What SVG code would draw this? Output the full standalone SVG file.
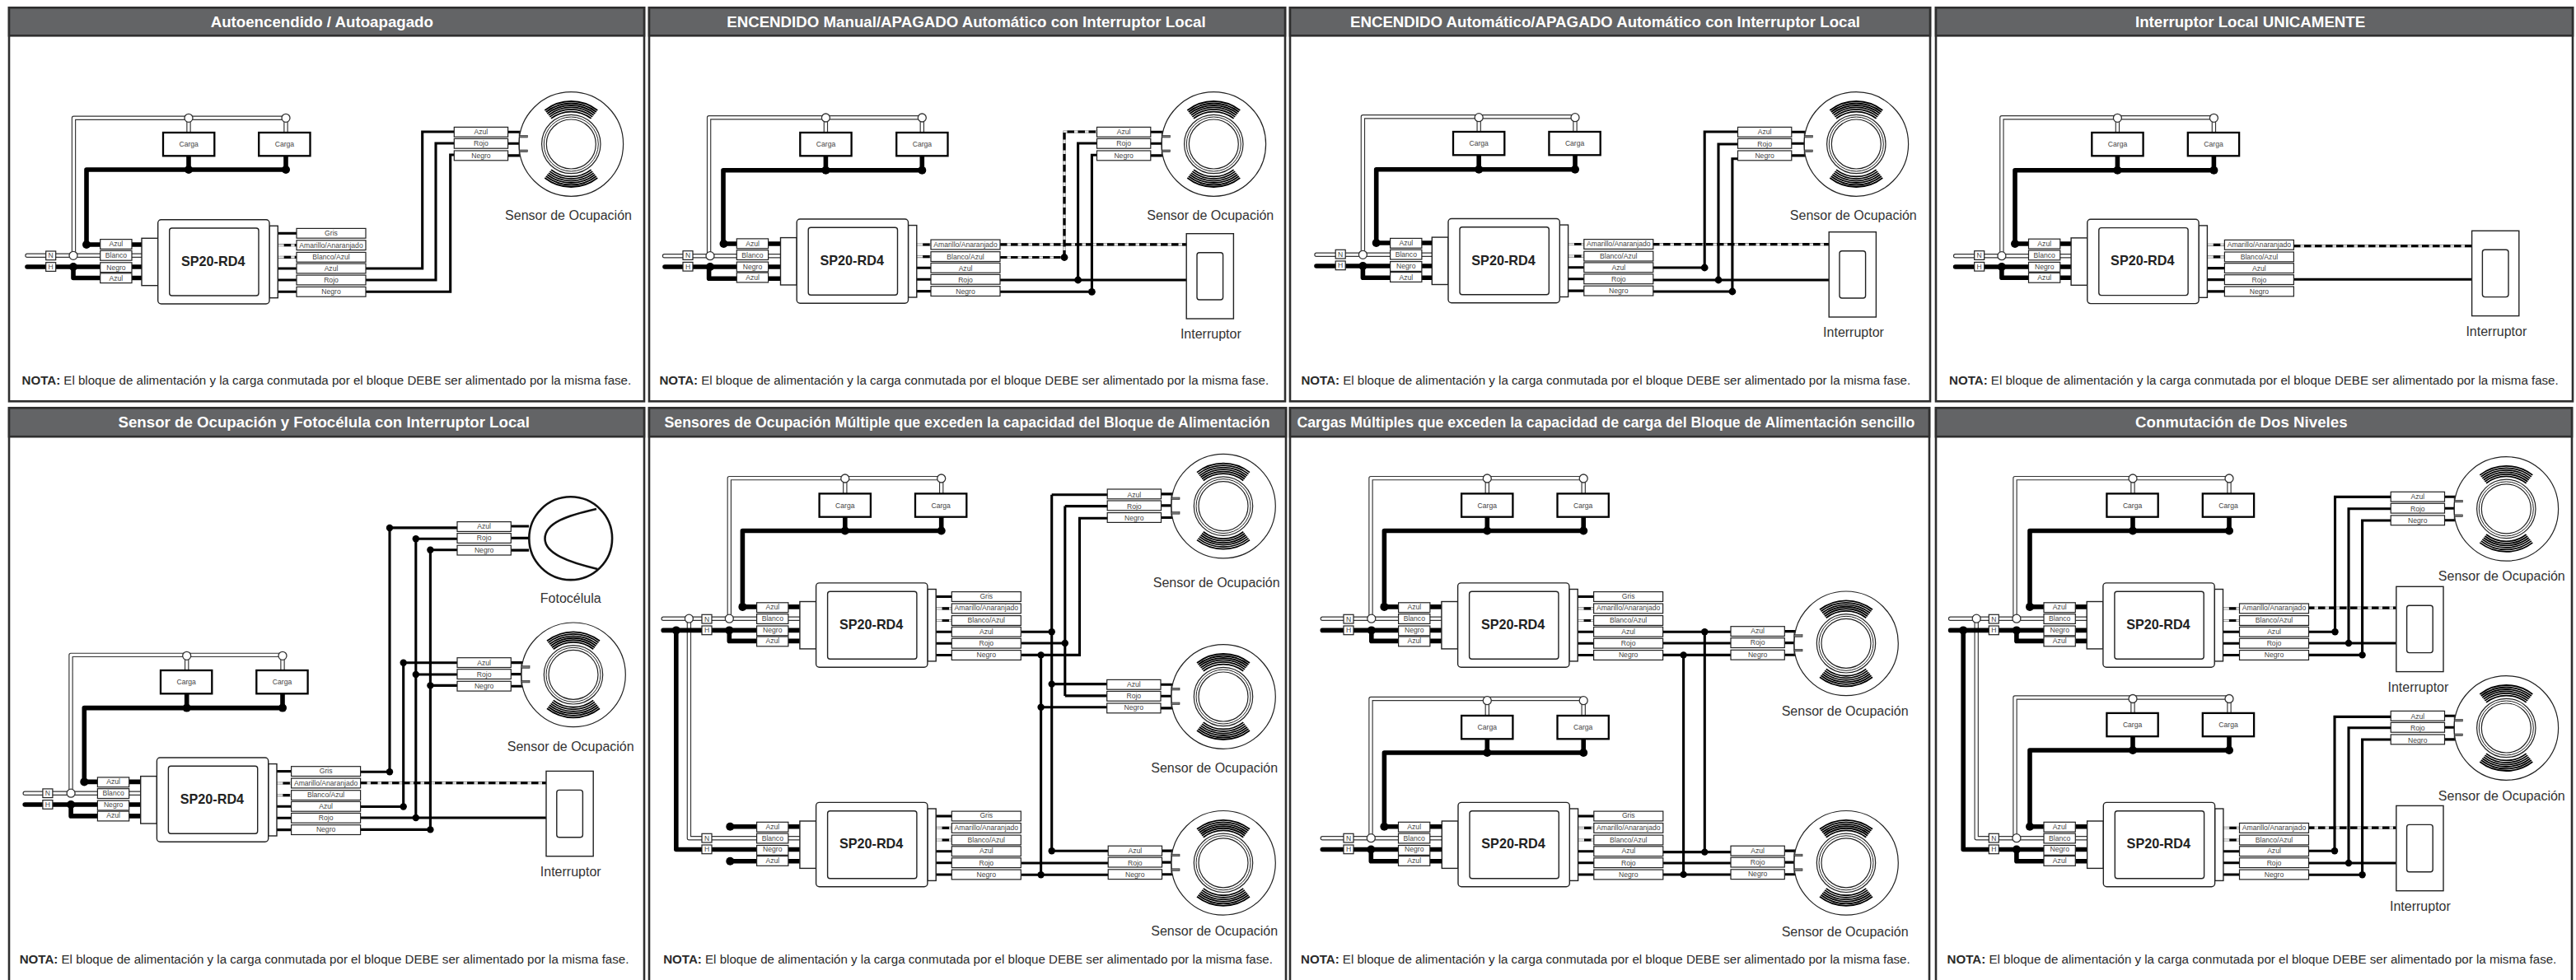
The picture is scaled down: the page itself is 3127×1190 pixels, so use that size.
<svg xmlns="http://www.w3.org/2000/svg" width="3127" height="1190" viewBox="0 0 3127 1190">
<style>
text{font-family:"Liberation Sans",Arial,sans-serif}
.fr{fill:#fff;stroke:#2e2e2e;stroke-width:2.6}
.hd{fill:#636466;stroke:#2e2e2e;stroke-width:2.6}
.h{font-size:18.7px;font-weight:700;fill:#fff;text-anchor:middle}
.nota{font-size:15.1px;fill:#2a2a2a}
.bd{font-weight:700}
.t{font-size:8.6px;fill:#444;text-anchor:middle}
.b{font-size:16.2px;font-weight:700;fill:#222;text-anchor:middle}
.l{font-size:16px;fill:#333;text-anchor:middle}
.ln{fill:#fff;stroke:#222;stroke-width:1.4}
.tg{fill:#fff;stroke:#222;stroke-width:1.2}
.ld{fill:#fff;stroke:#000;stroke-width:2.3}
.nb{fill:none;stroke:#333;stroke-width:5.4;stroke-linecap:round;stroke-linejoin:round}
.nw{fill:none;stroke:#fff;stroke-width:3.1;stroke-linecap:round;stroke-linejoin:round}
.hb{fill:none;stroke:#000;stroke-width:5.6;stroke-linecap:round;stroke-linejoin:round}
.w{fill:none;stroke:#000;stroke-width:3.1}
.db{fill:none;stroke:#888;stroke-width:3.2}
.dw{fill:none;stroke:#fff;stroke-width:1.5}
.dd{fill:none;stroke:#000;stroke-width:3.2;stroke-dasharray:8.5 4.5}
.jw{fill:#fff;stroke:#333;stroke-width:1.3}
.jb{fill:#000}
.arc{fill:none;stroke:#000;stroke-width:1.8}
.rg{fill:none;stroke:#222;stroke-width:1}
</style>
<defs>
<g id="box"><rect class="ln" x="-19.7" y="22.6" width="19.7" height="57.4"/><rect class="ln" x="135.3" y="7.6" width="10.3" height="87.4"/><rect class="ln" width="135.3" height="102.3" rx="4"/><rect class="ln" x="14" y="10.3" width="108.3" height="82" rx="3"/></g>
<g id="tl"><rect class="tg" y="23.9" width="38.3" height="11.8"/><rect class="tg" y="37.7" width="38.3" height="11.8"/><rect class="tg" y="52.1" width="38.3" height="11.8"/><rect class="tg" y="65.1" width="38.3" height="11.8"/></g>
<g id="tr5"><rect class="tg" y="25.1" width="84" height="11.8"/><rect class="tg" y="39.7" width="84" height="11.8"/><rect class="tg" y="53.4" width="84" height="11.8"/><rect class="tg" y="67.4" width="84" height="11.8"/><rect class="tg" y="81.7" width="84" height="11.8"/></g>
<g id="gr"><rect class="tg" y="10.7" width="84" height="11.8"/></g>
<g id="ss"><path class="w" d="M145,59.3H172M145,73.3H172M145,87.6H172"/></g>
<g id="sg"><path class="w" d="M145,16.6H172"/></g>
<g id="sd"><path class="db" d="M145,31H172M145,45.6H172"/><path class="dw" d="M145,31H172M145,45.6H172"/><path class="dd" d="M153,31H172M153,45.6H172"/></g>
<g id="nh"><rect class="tg" width="12" height="10.7"/><rect class="tg" y="13.7" width="12" height="10.7"/></g>
<rect id="load" class="ld" width="62.3" height="28.3"/>
<g id="ts"><rect class="tg" y="-20.6" width="65.3" height="11.8"/><rect class="tg" y="-6.6" width="65.3" height="11.8"/><rect class="tg" y="8" width="65.3" height="11.8"/></g>
<g id="sw"><rect class="ln" width="57.2" height="103.3"/><rect class="ln" x="12.8" y="23" width="31.6" height="57.3" rx="3"/></g>
<g id="sensor">
<path class="w" d="M-80,-14.7H-61M-80,-.7H-61M-80,13.9H-61"/>
<circle class="ln" r="63.3" style="stroke-width:1.2"/>
<path d="M-63,-16V15" stroke="#222" stroke-width="1" fill="none"/>
<rect x="-63" y="-10.6" width="10" height="2.6" fill="#777" stroke="#222" stroke-width=".6"/><rect x="-63" y="7" width="10" height="2.6" fill="#777" stroke="#222" stroke-width=".6"/>
<circle class="rg" r="35.7" style="stroke-width:1.2"/><circle class="rg" r="33"/><circle class="rg" r="30" style="stroke-width:1.2"/>
<path class="arc" d="M-24.3,-31.1A39.5,39.5 0 0 1 24.3,-31.1M-25.9,-33.1A42,42 0 0 1 25.9,-33.1M-27.4,-35.1A44.5,44.5 0 0 1 27.4,-35.1M-29,-37A47,47 0 0 1 29,-37M-30.5,-39A49.5,49.5 0 0 1 30.5,-39M-32,-41A52,52 0 0 1 32,-41"/>
<path class="arc" d="M-24.3,31.1A39.5,39.5 0 0 0 24.3,31.1M-25.9,33.1A42,42 0 0 0 25.9,33.1M-27.4,35.1A44.5,44.5 0 0 0 27.4,35.1M-29,37A47,47 0 0 0 29,37M-30.5,39A49.5,49.5 0 0 0 30.5,39M-32,41A52,52 0 0 0 32,41"/>
</g>
</defs>
<rect width="3127" height="1190" fill="#fff"/>

<g id="p1">
<g id="p1-frame"><rect class="fr" x="11" y="9.3" width="771" height="478"/><rect class="hd" x="11" y="9.3" width="771" height="34"/><text class="h" x="390.8" y="33">Autoencendido / Autoapagado</text></g>
<g id="p1-wires">
<path class="nb" d="M33,310.3H172M89.5,310V143.3H347M229,143V161M347,143V161"/><path class="nw" d="M33,310.3H172M89.5,310V143.3H347M229,143V161M347,143V161"/>
<path class="hb" d="M33,324H172M89,324V337.5H172M229,189V206M347,189V206H105V297H172"/>
<use href="#ss" x="191.7" y="266.7"/><use href="#sg" x="191.7" y="266.7"/><use href="#sd" x="191.7" y="266.7"/>
<path class="w" d="M444,326H512.7V160H552M444,340H529V174H552M444,354.3H546.7V188H552"/>
<g class="jb"><circle cx="89" cy="324" r="5"/><circle cx="229" cy="206" r="5"/><circle cx="347" cy="206" r="5"/><circle cx="105" cy="297" r="5"/></g>
<g class="jw"><circle cx="89" cy="310.3" r="5"/><circle cx="229" cy="143.3" r="5"/><circle cx="347" cy="143.3" r="5"/></g>
</g>
<g id="p1-feed" transform="translate(55.7,305)"><use href="#nh"/><text class="t" x="6" y="8.4">N</text><text class="t" x="6" y="22">H</text></g>
<g id="p1-load1" transform="translate(198,161)"><use href="#load"/><text class="t" x="31.2" y="17.2">Carga</text></g>
<g id="p1-load2" transform="translate(314.2,161)"><use href="#load"/><text class="t" x="31.2" y="17.2">Carga</text></g>
<g id="p1-block" transform="translate(191.7,266.7)"><use href="#box"/><use href="#tl" x="-70"/><use href="#tr5" x="168.3"/><use href="#gr" x="168.3"/><text class="b" x="67" y="56">SP20-RD4</text>
<text class="t" x="-50.8" y="32.8">Azul</text><text class="t" x="-50.8" y="46.6">Blanco</text><text class="t" x="-50.8" y="61">Negro</text><text class="t" x="-50.8" y="74">Azul</text>
<text class="t" x="210.3" y="19.6">Gris</text><text class="t" x="210.3" y="34">Amarillo/Anaranjado</text><text class="t" x="210.3" y="48.6">Blanco/Azul</text><text class="t" x="210.3" y="62.3">Azul</text><text class="t" x="210.3" y="76.3">Rojo</text><text class="t" x="210.3" y="90.6">Negro</text></g>
<g id="p1-sensor" transform="translate(693.3,175)"><use href="#sensor"/><use href="#ts" x="-142"/><text class="t" x="-109.4" y="-12">Azul</text><text class="t" x="-109.4" y="2">Rojo</text><text class="t" x="-109.4" y="16.5">Negro</text><text class="l" x="-3.3" y="92.2">Sensor de Ocupación</text></g>
<text class="nota" x="26.5" y="467"><tspan class="bd">NOTA:</tspan> El bloque de alimentación y la carga conmutada por el bloque DEBE ser alimentado por la misma fase.</text>
</g>

<g id="p2">
<g id="p2-frame"><rect class="fr" x="788" y="9.3" width="772" height="478"/><rect class="hd" x="788" y="9.3" width="772" height="34"/><text class="h" x="1172.9" y="33">ENCENDIDO Manual/APAGADO Automático con Interruptor Local</text></g>
<g id="p2-wires">
<path class="nb" d="M806.5,310.7H947M860.6,310V142.7H1119.3M1002.4,143V161M1119.3,143V161"/><path class="nw" d="M806.5,310.7H947M860.6,310V142.7H1119.3M1002.4,143V161M1119.3,143V161"/>
<path class="hb" d="M807,324H947M860.6,324V338.3H947M1002.4,189V206.7M1119.3,189V206.7H878V296H947"/>
<use href="#ss" x="967.2" y="266"/><use href="#sd" x="967.2" y="266"/>
<path class="db" d="M1214,296.8H1440M1214,312.5H1292V160H1332"/><path class="dw" d="M1214,296.8H1440M1214,312.5H1292V160H1332"/><path class="dd" d="M1214,296.8H1440M1214,312.5H1292V160H1332"/>
<path class="w" d="M1214,340H1440M1308.6,340V174H1332M1214,354.3H1325.4V188.3H1332"/>
<g class="jb"><circle cx="862" cy="324" r="5"/><circle cx="1002.4" cy="206.7" r="5"/><circle cx="1119.3" cy="206.7" r="5"/><circle cx="878.5" cy="296" r="5"/><circle cx="1292" cy="312.5" r="4.4"/><circle cx="1308.6" cy="340" r="4.4"/><circle cx="1325.4" cy="354.3" r="4.4"/></g>
<g class="jw"><circle cx="862" cy="310.7" r="5"/><circle cx="1002.4" cy="143" r="5"/><circle cx="1119.3" cy="143" r="5"/></g>
</g>
<g id="p2-feed" transform="translate(829,304.7)"><use href="#nh"/><text class="t" x="6" y="8.4">N</text><text class="t" x="6" y="22">H</text></g>
<g id="p2-load1" transform="translate(971.3,161)"><use href="#load"/><text class="t" x="31.2" y="17.2">Carga</text></g>
<g id="p2-load2" transform="translate(1088.2,161)"><use href="#load"/><text class="t" x="31.2" y="17.2">Carga</text></g>
<g id="p2-block" transform="translate(967.2,266)"><use href="#box"/><use href="#tl" x="-72.9"/><use href="#tr5" x="162.8"/><text class="b" x="67" y="56">SP20-RD4</text>
<text class="t" x="-53.7" y="33">Azul</text><text class="t" x="-53.7" y="47">Blanco</text><text class="t" x="-53.7" y="61.4">Negro</text><text class="t" x="-53.7" y="74.3">Azul</text>
<text class="t" x="204.8" y="34">Amarillo/Anaranjado</text><text class="t" x="204.8" y="49">Blanco/Azul</text><text class="t" x="204.8" y="63">Azul</text><text class="t" x="204.8" y="77">Rojo</text><text class="t" x="204.8" y="91.3">Negro</text></g>
<g id="p2-sensor" transform="translate(1473.3,175)"><use href="#sensor"/><use href="#ts" x="-141.8"/><text class="t" x="-109.2" y="-12">Azul</text><text class="t" x="-109.2" y="2">Rojo</text><text class="t" x="-109.2" y="16.5">Negro</text><text class="l" x="-4" y="92.2">Sensor de Ocupación</text></g>
<g id="p2-switch" transform="translate(1440.2,283.7)"><use href="#sw"/><text class="l" x="29.6" y="127.8">Interruptor</text></g>
<text class="nota" x="800.4" y="467"><tspan class="bd">NOTA:</tspan> El bloque de alimentación y la carga conmutada por el bloque DEBE ser alimentado por la misma fase.</text>
</g>

<g id="p3">
<g id="p3-frame"><rect class="fr" x="1566" y="9.3" width="777" height="478"/><rect class="hd" x="1566" y="9.3" width="777" height="34"/><text class="h" x="1948.5" y="33">ENCENDIDO Automático/APAGADO Automático con Interruptor Local</text></g>
<g id="p3-wires">
<path class="nb" d="M1598,309.3H1738M1654.4,309V141.7H1912M1795.2,142V160M1912,142V160"/><path class="nw" d="M1598,309.3H1738M1654.4,309V141.7H1912M1795.2,142V160M1912,142V160"/>
<path class="hb" d="M1598,323H1738M1654.4,323V337.3H1738M1795.2,188V205.7M1912,188V205.7H1670.7V295H1738"/>
<use href="#ss" x="1758" y="265.5"/><use href="#sd" x="1758" y="265.5"/>
<path class="db" d="M2006,296.7H2220"/><path class="dw" d="M2006,296.7H2220"/><path class="dd" d="M2006,296.7H2220"/>
<path class="w" d="M2006,325H2069.2V160H2110M2006,340H2220M2086,340V175H2110M2006,354H2102.9V192.7H2110"/>
<g class="jb"><circle cx="1654.4" cy="323" r="5"/><circle cx="1795.2" cy="205.7" r="5"/><circle cx="1912" cy="205.7" r="5"/><circle cx="1670.7" cy="295" r="5"/><circle cx="2069.2" cy="325" r="4.4"/><circle cx="2086" cy="340" r="4.4"/><circle cx="2102.9" cy="354" r="4.4"/></g>
<g class="jw"><circle cx="1654.4" cy="309.3" r="5"/><circle cx="1795.2" cy="142.7" r="5"/><circle cx="1912" cy="142.7" r="5"/></g>
</g>
<g id="p3-feed" transform="translate(1621.2,303.3)"><use href="#nh"/><text class="t" x="6" y="8.4">N</text><text class="t" x="6" y="22">H</text></g>
<g id="p3-load1" transform="translate(1764,160)"><use href="#load"/><text class="t" x="31.2" y="17.2">Carga</text></g>
<g id="p3-load2" transform="translate(1880.4,160)"><use href="#load"/><text class="t" x="31.2" y="17.2">Carga</text></g>
<g id="p3-block" transform="translate(1758,265.5)"><use href="#box"/><use href="#tl" x="-70.4"/><use href="#tr5" x="164.8"/><text class="b" x="67" y="56">SP20-RD4</text>
<text class="t" x="-51.2" y="32.5">Azul</text><text class="t" x="-51.2" y="46.8">Blanco</text><text class="t" x="-51.2" y="60.8">Negro</text><text class="t" x="-51.2" y="74.2">Azul</text>
<text class="t" x="206.8" y="33.5">Amarillo/Anaranjado</text><text class="t" x="206.8" y="48.5">Blanco/Azul</text><text class="t" x="206.8" y="62.5">Azul</text><text class="t" x="206.8" y="76.5">Rojo</text><text class="t" x="206.8" y="90.8">Negro</text></g>
<g id="p3-sensor" transform="translate(2253.3,175)"><use href="#sensor"/><use href="#ts" x="-143.8"/><text class="t" x="-111.2" y="-12">Azul</text><text class="t" x="-111.2" y="3">Rojo</text><text class="t" x="-111.2" y="17.3">Negro</text><text class="l" x="-3.5" y="92.2">Sensor de Ocupación</text></g>
<g id="p3-switch" transform="translate(2220.2,281.7)"><use href="#sw"/><text class="l" x="29.8" y="127.5">Interruptor</text></g>
<text class="nota" x="1579.4" y="467"><tspan class="bd">NOTA:</tspan> El bloque de alimentación y la carga conmutada por el bloque DEBE ser alimentado por la misma fase.</text>
</g>

<g id="p4">
<g id="p4-frame"><rect class="fr" x="2350" y="9.3" width="773" height="478"/><rect class="hd" x="2350" y="9.3" width="773" height="34"/><text class="h" x="2731.6" y="33">Interruptor Local UNICAMENTE</text></g>
<g id="p4-wires">
<path class="nb" d="M2373.6,310.7H2514M2429.9,310V142.7H2687.4M2570.4,143V161M2687.4,143V161"/><path class="nw" d="M2373.6,310.7H2514M2429.9,310V142.7H2687.4M2570.4,143V161M2687.4,143V161"/>
<path class="hb" d="M2373.6,324H2514M2429.9,324V337.3H2514M2570.4,189V206.7M2687.4,189V206.7H2446V296H2514"/>
<use href="#ss" x="2533.8" y="266.3"/><use href="#sd" x="2533.8" y="266.3"/>
<path class="db" d="M2784,298.7H3000.6"/><path class="dw" d="M2784,298.7H3000.6"/><path class="dd" d="M2784,298.7H3000.6"/>
<path class="w" d="M2784,339.3H3000.6"/>
<g class="jb"><circle cx="2429.9" cy="324" r="5"/><circle cx="2570.4" cy="206.7" r="5"/><circle cx="2687.4" cy="206.7" r="5"/><circle cx="2446" cy="296" r="5"/></g>
<g class="jw"><circle cx="2429.9" cy="310.7" r="5"/><circle cx="2570.4" cy="143.3" r="5"/><circle cx="2687.4" cy="143.3" r="5"/></g>
</g>
<g id="p4-feed" transform="translate(2396.7,304.7)"><use href="#nh"/><text class="t" x="6" y="8.4">N</text><text class="t" x="6" y="22">H</text></g>
<g id="p4-load1" transform="translate(2539.3,161)"><use href="#load"/><text class="t" x="31.2" y="17.2">Carga</text></g>
<g id="p4-load2" transform="translate(2655.8,161)"><use href="#load"/><text class="t" x="31.2" y="17.2">Carga</text></g>
<g id="p4-block" transform="translate(2533.8,266.3)"><use href="#box"/><use href="#tl" x="-71.3"/><use href="#tr5" x="166.6"/><text class="b" x="67" y="56">SP20-RD4</text>
<text class="t" x="-52.1" y="32.8">Azul</text><text class="t" x="-52.1" y="46.6">Blanco</text><text class="t" x="-52.1" y="61">Negro</text><text class="t" x="-52.1" y="74">Azul</text>
<text class="t" x="208.6" y="34">Amarillo/Anaranjado</text><text class="t" x="208.6" y="48.6">Blanco/Azul</text><text class="t" x="208.6" y="62.3">Azul</text><text class="t" x="208.6" y="76.3">Rojo</text><text class="t" x="208.6" y="90.6">Negro</text></g>
<g id="p4-switch" transform="translate(3000.6,280.3)"><use href="#sw"/><text class="l" x="29.7" y="127.8">Interruptor</text></g>
<text class="nota" x="2366" y="467"><tspan class="bd">NOTA:</tspan> El bloque de alimentación y la carga conmutada por el bloque DEBE ser alimentado por la misma fase.</text>
</g>

<g id="p5">
<g id="p5-frame"><rect class="fr" x="11" y="495.4" width="771" height="705"/><rect class="hd" x="11" y="495.4" width="771" height="34.8"/><text class="h" x="393.2" y="518.8">Sensor de Ocupación y Fotocélula con Interruptor Local</text></g>
<g id="p5-wires">
<path class="nb" d="M30.2,963.2H170M86,963V795.4H343M226.7,796V814M343,796V814"/><path class="nw" d="M30.2,963.2H170M86,963V795.4H343M226.7,796V814M343,796V814"/>
<path class="hb" d="M30.2,977H170M86.1,977V990.9H170M226.7,842V859.6M343,842V859.6H102.3V949.4H170"/>
<use href="#ss" x="190.4" y="920"/><use href="#sg" x="190.4" y="920"/><use href="#sd" x="190.4" y="920"/>
<path class="db" d="M437,950.7H663"/><path class="dw" d="M437,950.7H663"/><path class="dd" d="M437,950.7H663"/>
<path class="w" d="M437,937.3H473V640.9H556M437,979.5H489.7V804.7H556M437,993H663M504.8,993V654.3H556M504.8,819H556M437,1007.4H522.4V667.7H556M522.4,832.4H556M620,639H642M620,653.4H642M620,668.1H642"/>
<g class="jb"><circle cx="86.1" cy="977" r="5"/><circle cx="226.7" cy="859.6" r="5"/><circle cx="343" cy="859.6" r="5"/><circle cx="102.3" cy="949.4" r="5"/><circle cx="473" cy="937.3" r="4.2"/><circle cx="473" cy="641" r="4.2"/><circle cx="489.7" cy="979.5" r="4.2"/><circle cx="489.7" cy="804.7" r="4.2"/><circle cx="504.8" cy="993" r="4.2"/><circle cx="504.8" cy="654.3" r="4.2"/><circle cx="504.8" cy="819" r="4.2"/><circle cx="522.4" cy="1007.4" r="4.2"/><circle cx="522.4" cy="667.7" r="4.2"/><circle cx="522.4" cy="832.4" r="4.2"/></g>
<g class="jw"><circle cx="86.1" cy="963.2" r="5"/><circle cx="226.7" cy="796.3" r="5"/><circle cx="343" cy="796.3" r="5"/></g>
</g>
<g id="p5-feed" transform="translate(51.9,957.9)"><use href="#nh"/><text class="t" x="6" y="8.4">N</text><text class="t" x="6" y="22">H</text></g>
<g id="p5-load1" transform="translate(195,814)"><use href="#load"/><text class="t" x="31.2" y="17.2">Carga</text></g>
<g id="p5-load2" transform="translate(311.3,814)"><use href="#load"/><text class="t" x="31.2" y="17.2">Carga</text></g>
<g id="p5-block" transform="translate(190.4,920)"><use href="#box"/><use href="#tl" x="-72"/><use href="#tr5" x="163.2"/><use href="#gr" x="163.2"/><text class="b" x="67" y="56">SP20-RD4</text>
<text class="t" x="-52.8" y="32">Azul</text><text class="t" x="-52.8" y="45.8">Blanco</text><text class="t" x="-52.8" y="60">Negro</text><text class="t" x="-52.8" y="73.4">Azul</text>
<text class="t" x="205.2" y="19.4">Gris</text><text class="t" x="205.2" y="33.7">Amarillo/Anaranjado</text><text class="t" x="205.2" y="48">Blanco/Azul</text><text class="t" x="205.2" y="62.3">Azul</text><text class="t" x="205.2" y="76">Rojo</text><text class="t" x="205.2" y="90.4">Negro</text></g>
<g id="p5-photocell" transform="translate(692.7,653.7)"><circle r="50.4" fill="#fff" stroke="#111" stroke-width="2.6"/><path d="M31.3,-35.7C-3,-28 -31.4,-19 -31.2,.6C-31,18.3 -3,29 32.7,37.2" fill="none" stroke="#111" stroke-width="2.6"/><use href="#ts" x="-137.7" transform="translate(0,.5)"/><text class="t" x="-105.1" y="-11.7">Azul</text><text class="t" x="-105.1" y="2.7">Rojo</text><text class="t" x="-105.1" y="17.4">Negro</text><text class="l" x="0" y="78.4">Fotocélula</text></g>
<g id="p5-sensor" transform="translate(696,819.3)"><use href="#sensor"/><use href="#ts" x="-141"/><text class="t" x="-108.4" y="-11.6">Azul</text><text class="t" x="-108.4" y="2.7">Rojo</text><text class="t" x="-108.4" y="17">Negro</text><text class="l" x="-3.3" y="92.7">Sensor de Ocupación</text></g>
<g id="p5-switch" transform="translate(663,936.4)"><use href="#sw"/><text class="l" x="29.7" y="127.4">Interruptor</text></g>
<text class="nota" x="23.7" y="1170"><tspan class="bd">NOTA:</tspan> El bloque de alimentación y la carga conmutada por el bloque DEBE ser alimentado por la misma fase.</text>
</g>

<g id="p6">
<g id="p6-frame"><rect class="fr" x="788" y="495.4" width="773" height="705"/><rect class="hd" x="788" y="495.4" width="773" height="34.8"/><text class="h" x="1174" y="518.8" textLength="735" lengthAdjust="spacingAndGlyphs">Sensores de Ocupación Múltiple que exceden la capacidad del Bloque de Alimentación</text></g>
<g id="p6-wires">
<path class="nb" d="M805.2,751.2H971M885.3,751V580.6H1142.7M1025.8,581V599.4M1142.7,581V599.4M836.4,751V1017.7H971"/><path class="nw" d="M805.2,751.2H971M885.3,751V580.6H1142.7M1025.8,581V599.4M1142.7,581V599.4M836.4,751V1017.7H971"/>
<path class="hb" d="M805.2,765.4H971M885.3,765.4V778.4H971M820.8,765.4V1031.5H971M1025.8,627V644.5M1142.7,627V644.5H901.4V736.9H971M886.3,1003.8H971M886.3,1045.8H971"/>
<use href="#ss" x="990.6" y="707.9"/><use href="#sg" x="990.6" y="707.9"/><use href="#sd" x="990.6" y="707.9"/>
<use href="#ss" x="990.6" y="974.4"/><use href="#sg" x="990.6" y="974.4"/><use href="#sd" x="990.6" y="974.4"/>
<path class="w" d="M1240,767.2H1276.7M1276.7,600.7V1033.3M1276.7,600.7H1345M1276.7,830.6H1345M1276.7,1033.3H1345M1240,781H1292.8M1292.8,614.6V844.9M1292.8,614.6H1345M1292.8,844.9H1345M1240,795.4H1310.5V629.3H1345M1263.6,795.4V1062.3M1263.6,858.8H1345M1240,1048H1345M1240,1062.3H1345"/>
<g class="jb"><circle cx="820.8" cy="765.4" r="5"/><circle cx="885.3" cy="765.4" r="5"/><circle cx="1025.8" cy="644.5" r="5"/><circle cx="1142.7" cy="644.5" r="5"/><circle cx="901.4" cy="736.9" r="5"/><circle cx="886.3" cy="1003.8" r="5"/><circle cx="886.3" cy="1045.8" r="5"/><circle cx="1276.7" cy="767.2" r="4.2"/><circle cx="1276.7" cy="830.6" r="4.2"/><circle cx="1276.7" cy="1033.3" r="4.2"/><circle cx="1292.8" cy="781" r="4.2"/><circle cx="1263.6" cy="795.4" r="4.2"/><circle cx="1263.6" cy="858.8" r="4.2"/><circle cx="1263.6" cy="1062.3" r="4.2"/></g>
<g class="jw"><circle cx="836.4" cy="751.2" r="5"/><circle cx="885.3" cy="751.2" r="5"/><circle cx="1025.8" cy="581" r="5"/><circle cx="1142.7" cy="581" r="5"/></g>
</g>
<g id="p6-feed1" transform="translate(852,746.3)"><use href="#nh"/><text class="t" x="6" y="8.4">N</text><text class="t" x="6" y="22">H</text></g>
<g id="p6-feed2" transform="translate(852,1012.3)"><use href="#nh"/><text class="t" x="6" y="8.4">N</text><text class="t" x="6" y="22">H</text></g>
<g id="p6-load1" transform="translate(994.6,599.4)"><use href="#load"/><text class="t" x="31.2" y="17.2">Carga</text></g>
<g id="p6-load2" transform="translate(1111,599.4)"><use href="#load"/><text class="t" x="31.2" y="17.2">Carga</text></g>
<g id="p6-block1" transform="translate(990.6,707.9)"><use href="#box"/><use href="#tl" x="-72"/><use href="#tr5" x="164.7"/><use href="#gr" x="164.7"/><text class="b" x="67" y="56">SP20-RD4</text>
<text class="t" x="-52.8" y="32">Azul</text><text class="t" x="-52.8" y="46.3">Blanco</text><text class="t" x="-52.8" y="60.5">Negro</text><text class="t" x="-52.8" y="73.5">Azul</text>
<text class="t" x="206.7" y="19">Gris</text><text class="t" x="206.7" y="33.3">Amarillo/Anaranjado</text><text class="t" x="206.7" y="48">Blanco/Azul</text><text class="t" x="206.7" y="62.3">Azul</text><text class="t" x="206.7" y="76">Rojo</text><text class="t" x="206.7" y="90.5">Negro</text></g>
<g id="p6-block2" transform="translate(990.6,974.4)"><use href="#box"/><use href="#tl" x="-72"/><use href="#tr5" x="164.7"/><use href="#gr" x="164.7"/><text class="b" x="67" y="56">SP20-RD4</text>
<text class="t" x="-52.8" y="32.4">Azul</text><text class="t" x="-52.8" y="46.3">Blanco</text><text class="t" x="-52.8" y="59.6">Negro</text><text class="t" x="-52.8" y="73.5">Azul</text>
<text class="t" x="206.7" y="19">Gris</text><text class="t" x="206.7" y="33.3">Amarillo/Anaranjado</text><text class="t" x="206.7" y="48.5">Blanco/Azul</text><text class="t" x="206.7" y="61.9">Azul</text><text class="t" x="206.7" y="76.6">Rojo</text><text class="t" x="206.7" y="90.9">Negro</text></g>
<g id="p6-sensor1" transform="translate(1485,614.6)"><use href="#sensor"/><use href="#ts" x="-140.8"/><text class="t" x="-108.2" y="-10.9">Azul</text><text class="t" x="-108.2" y="3.4">Rojo</text><text class="t" x="-108.2" y="17.7">Negro</text><text class="l" x="-8.3" y="98.3">Sensor de Ocupación</text></g>
<g id="p6-sensor2" transform="translate(1485,846)"><use href="#sensor"/><use href="#ts" x="-141.3"/><text class="t" x="-108.7" y="-12">Azul</text><text class="t" x="-108.7" y="2.4">Rojo</text><text class="t" x="-108.7" y="16.2">Negro</text><text class="l" x="-10.8" y="91.9">Sensor de Ocupación</text></g>
<g id="p6-sensor3" transform="translate(1485,1047.8)"><use href="#sensor"/><use href="#ts" x="-139.8"/><text class="t" x="-107.2" y="-11.5">Azul</text><text class="t" x="-107.2" y="3.2">Rojo</text><text class="t" x="-107.2" y="17.5">Negro</text><text class="l" x="-10.8" y="88.3">Sensor de Ocupación</text></g>
<text class="nota" x="805.2" y="1170"><tspan class="bd">NOTA:</tspan> El bloque de alimentación y la carga conmutada por el bloque DEBE ser alimentado por la misma fase.</text>
</g>

<g id="p7">
<g id="p7-frame"><rect class="fr" x="1566" y="495.4" width="776" height="705"/><rect class="hd" x="1566" y="495.4" width="776" height="34.8"/><text class="h" x="1949.4" y="518.8" textLength="750" lengthAdjust="spacingAndGlyphs">Cargas Múltiples que exceden la capacidad de carga del Bloque de Alimentación sencillo</text></g>
<g id="p7-wires">
<path class="nb" d="M1605.3,751.2H1750M1664,751V580.6H1921.7M1805.3,581V599.4M1922.2,581V599.4M1605.3,1017.7H1750M1664,1017V848.5H1921.7M1805.3,850V869M1922.2,850V869"/><path class="nw" d="M1605.3,751.2H1750M1664,751V580.6H1921.7M1805.3,581V599.4M1922.2,581V599.4M1605.3,1017.7H1750M1664,1017V848.5H1921.7M1805.3,850V869M1922.2,850V869"/>
<path class="hb" d="M1605.3,765.4H1750M1664.8,765.4V778.4H1750M1805.3,627V644.5M1922.2,627V644.5H1680.4V736.9H1750M1605.3,1031.5H1750M1664.3,1031.5V1045.8H1750M1805.3,897V914M1922.2,897V914H1680.4V1003.8H1750"/>
<use href="#ss" x="1769.6" y="707.9"/><use href="#sg" x="1769.6" y="707.9"/><use href="#sd" x="1769.6" y="707.9"/>
<use href="#ss" x="1770" y="974.4"/><use href="#sg" x="1770" y="974.4"/><use href="#sd" x="1770" y="974.4"/>
<path class="w" d="M2018,767.2H2102M2069.3,767.2V1034.6M2018,1034.6H2102M2018,781H2102M2018,795.4H2102M2043.6,795.4V1061.9M2018,1048H2102M2018,1062H2102"/>
<g class="jb"><circle cx="1664.8" cy="765.4" r="5"/><circle cx="1805.3" cy="644.5" r="5"/><circle cx="1922.2" cy="644.5" r="5"/><circle cx="1680.4" cy="736.9" r="5"/><circle cx="1664.3" cy="1031.5" r="5"/><circle cx="1805.3" cy="914" r="5"/><circle cx="1922.2" cy="914" r="5"/><circle cx="1680.4" cy="1003.8" r="5"/><circle cx="2069.3" cy="767.2" r="4.2"/><circle cx="2069.3" cy="1034.6" r="4.2"/><circle cx="2043.6" cy="795.4" r="4.2"/><circle cx="2043.6" cy="1061.9" r="4.2"/></g>
<g class="jw"><circle cx="1664.8" cy="751.2" r="5"/><circle cx="1805.3" cy="581" r="5"/><circle cx="1922.2" cy="581" r="5"/><circle cx="1664.3" cy="1017.7" r="5"/><circle cx="1805.3" cy="850.7" r="5"/><circle cx="1922.2" cy="850.7" r="5"/></g>
</g>
<g id="p7-feed1" transform="translate(1631,746.3)"><use href="#nh"/><text class="t" x="6" y="8.4">N</text><text class="t" x="6" y="22">H</text></g>
<g id="p7-feed2" transform="translate(1631,1012.3)"><use href="#nh"/><text class="t" x="6" y="8.4">N</text><text class="t" x="6" y="22">H</text></g>
<g id="p7-load1" transform="translate(1774.1,599.4)"><use href="#load"/><text class="t" x="31.2" y="17.2">Carga</text></g>
<g id="p7-load2" transform="translate(1890.5,599.4)"><use href="#load"/><text class="t" x="31.2" y="17.2">Carga</text></g>
<g id="p7-load3" transform="translate(1774.1,869)"><use href="#load"/><text class="t" x="31.2" y="17.2">Carga</text></g>
<g id="p7-load4" transform="translate(1890.5,869)"><use href="#load"/><text class="t" x="31.2" y="17.2">Carga</text></g>
<g id="p7-block1" transform="translate(1769.6,707.9)"><use href="#box"/><use href="#tl" x="-72"/><use href="#tr5" x="165"/><use href="#gr" x="165"/><text class="b" x="67" y="56">SP20-RD4</text>
<text class="t" x="-52.8" y="32">Azul</text><text class="t" x="-52.8" y="46.3">Blanco</text><text class="t" x="-52.8" y="60.5">Negro</text><text class="t" x="-52.8" y="73.5">Azul</text>
<text class="t" x="207" y="19">Gris</text><text class="t" x="207" y="33.3">Amarillo/Anaranjado</text><text class="t" x="207" y="48">Blanco/Azul</text><text class="t" x="207" y="62.3">Azul</text><text class="t" x="207" y="76">Rojo</text><text class="t" x="207" y="90.5">Negro</text></g>
<g id="p7-block2" transform="translate(1770,974.4)"><use href="#box"/><use href="#tl" x="-72.5"/><use href="#tr5" x="164.8"/><use href="#gr" x="164.8"/><text class="b" x="67" y="56">SP20-RD4</text>
<text class="t" x="-53.3" y="32.4">Azul</text><text class="t" x="-53.3" y="46.3">Blanco</text><text class="t" x="-53.3" y="59.6">Negro</text><text class="t" x="-53.3" y="73.5">Azul</text>
<text class="t" x="206.8" y="19">Gris</text><text class="t" x="206.8" y="33.3">Amarillo/Anaranjado</text><text class="t" x="206.8" y="48.5">Blanco/Azul</text><text class="t" x="206.8" y="61.9">Azul</text><text class="t" x="206.8" y="76.6">Rojo</text><text class="t" x="206.8" y="90.9">Negro</text></g>
<g id="p7-sensor1" transform="translate(2241,781.3)"><use href="#sensor"/><use href="#ts" x="-140"/><text class="t" x="-107.4" y="-12.4">Azul</text><text class="t" x="-107.4" y="1.9">Rojo</text><text class="t" x="-107.4" y="16.6">Negro</text><text class="l" x="-1.4" y="87.4">Sensor de Ocupación</text></g>
<g id="p7-sensor2" transform="translate(2241,1047.8)"><use href="#sensor"/><use href="#ts" x="-140"/><text class="t" x="-107.4" y="-11.9">Azul</text><text class="t" x="-107.4" y="1.9">Rojo</text><text class="t" x="-107.4" y="16.2">Negro</text><text class="l" x="-1.4" y="89.2">Sensor de Ocupación</text></g>
<text class="nota" x="1579" y="1170"><tspan class="bd">NOTA:</tspan> El bloque de alimentación y la carga conmutada por el bloque DEBE ser alimentado por la misma fase.</text>
</g>

<g id="p8">
<g id="p8-frame"><rect class="fr" x="2350" y="495.4" width="772" height="705"/><rect class="hd" x="2350" y="495.4" width="772" height="34.8"/><text class="h" x="2720.8" y="518.8">Conmutación de Dos Niveles</text></g>
<g id="p8-wires">
<path class="nb" d="M2367.6,751.2H2534M2446,751V580.6H2706M2589,581V599.4M2706,581V599.4M2399.2,751V1017.7H2534M2446,1017V847H2706M2589,848V866M2706,848V866"/><path class="nw" d="M2367.6,751.2H2534M2446,751V580.6H2706M2589,581V599.4M2706,581V599.4M2399.2,751V1017.7H2534M2446,1017V847H2706M2589,848V866M2706,848V866"/>
<path class="hb" d="M2367.6,765.4H2534M2447.9,765.4V778.4H2534M2383.2,765.4V1031.5H2534M2447.9,1031.5V1045.8H2534M2589,627V644.5M2706,627V644.5H2464V736.9H2534M2589,894V911M2706,894V911H2464V1003.8H2534"/>
<use href="#ss" x="2552.9" y="707.9"/><use href="#sd" x="2552.9" y="707.9"/>
<use href="#ss" x="2553.3" y="974.4"/><use href="#sd" x="2553.3" y="974.4"/>
<path class="db" d="M2801,738.2H2908.8M2801,1005.2H2908.8"/><path class="dw" d="M2801,738.2H2908.8M2801,1005.2H2908.8"/><path class="dd" d="M2801,738.2H2908.8M2801,1005.2H2908.8"/>
<path class="w" d="M2801,767.2H2834.5V603.4H2903M2801,781H2908.8M2851,781V617.7H2903M2801,795.4H2867.6V632H2903M2801,1033.3H2834V870.4H2903M2801,1048H2908.8M2851,1048V883.7H2903M2801,1062.3H2867.6V898H2903"/>
<g class="jb"><circle cx="2383.2" cy="765.4" r="5"/><circle cx="2447.9" cy="765.4" r="5"/><circle cx="2447.9" cy="1031.5" r="5"/><circle cx="2589" cy="644.5" r="5"/><circle cx="2706" cy="644.5" r="5"/><circle cx="2464" cy="736.9" r="5"/><circle cx="2589" cy="911" r="5"/><circle cx="2706" cy="911" r="5"/><circle cx="2464" cy="1003.8" r="5"/><circle cx="2834.5" cy="767.2" r="4.2"/><circle cx="2851" cy="781" r="4.2"/><circle cx="2867.6" cy="795.4" r="4.2"/><circle cx="2834" cy="1033.3" r="4.2"/><circle cx="2851" cy="1048" r="4.2"/><circle cx="2867.6" cy="1062.3" r="4.2"/></g>
<g class="jw"><circle cx="2399.2" cy="751.2" r="5"/><circle cx="2447.9" cy="751.2" r="5"/><circle cx="2447.9" cy="1017.7" r="5"/><circle cx="2589" cy="581" r="5"/><circle cx="2706" cy="581" r="5"/><circle cx="2589" cy="848.5" r="5"/><circle cx="2706" cy="848.5" r="5"/></g>
</g>
<g id="p8-feed1" transform="translate(2414.3,746.3)"><use href="#nh"/><text class="t" x="6" y="8.4">N</text><text class="t" x="6" y="22">H</text></g>
<g id="p8-feed2" transform="translate(2414.3,1012.3)"><use href="#nh"/><text class="t" x="6" y="8.4">N</text><text class="t" x="6" y="22">H</text></g>
<g id="p8-load1" transform="translate(2557.4,599.4)"><use href="#load"/><text class="t" x="31.2" y="17.2">Carga</text></g>
<g id="p8-load2" transform="translate(2673.8,599.4)"><use href="#load"/><text class="t" x="31.2" y="17.2">Carga</text></g>
<g id="p8-load3" transform="translate(2557.4,865.9)"><use href="#load"/><text class="t" x="31.2" y="17.2">Carga</text></g>
<g id="p8-load4" transform="translate(2673.8,865.9)"><use href="#load"/><text class="t" x="31.2" y="17.2">Carga</text></g>
<g id="p8-block1" transform="translate(2552.9,707.9)"><use href="#box"/><use href="#tl" x="-71.9"/><use href="#tr5" x="165.6"/><text class="b" x="67" y="56">SP20-RD4</text>
<text class="t" x="-52.7" y="32">Azul</text><text class="t" x="-52.7" y="46.3">Blanco</text><text class="t" x="-52.7" y="60.5">Negro</text><text class="t" x="-52.7" y="73.5">Azul</text>
<text class="t" x="207.6" y="33.3">Amarillo/Anaranjado</text><text class="t" x="207.6" y="48">Blanco/Azul</text><text class="t" x="207.6" y="62.3">Azul</text><text class="t" x="207.6" y="76">Rojo</text><text class="t" x="207.6" y="90.5">Negro</text></g>
<g id="p8-block2" transform="translate(2553.3,974.4)"><use href="#box"/><use href="#tl" x="-72.3"/><use href="#tr5" x="165.2"/><text class="b" x="67" y="56">SP20-RD4</text>
<text class="t" x="-53.1" y="32.4">Azul</text><text class="t" x="-53.1" y="46.3">Blanco</text><text class="t" x="-53.1" y="59.6">Negro</text><text class="t" x="-53.1" y="73.5">Azul</text>
<text class="t" x="207.2" y="33.3">Amarillo/Anaranjado</text><text class="t" x="207.2" y="48.5">Blanco/Azul</text><text class="t" x="207.2" y="61.9">Azul</text><text class="t" x="207.2" y="76.6">Rojo</text><text class="t" x="207.2" y="90.9">Negro</text></g>
<g id="p8-sensor1" transform="translate(3042.3,617.9)"><use href="#sensor"/><use href="#ts" x="-140.1"/><text class="t" x="-107.5" y="-11.5">Azul</text><text class="t" x="-107.5" y="2.8">Rojo</text><text class="t" x="-107.5" y="17.1">Negro</text><text class="l" x="-5.5" y="87.4">Sensor de Ocupación</text></g>
<g id="p8-sensor2" transform="translate(3042.3,884)"><use href="#sensor"/><use href="#ts" x="-140.1"/><text class="t" x="-107.5" y="-11.1">Azul</text><text class="t" x="-107.5" y="3.2">Rojo</text><text class="t" x="-107.5" y="17.9">Negro</text><text class="l" x="-5.5" y="88.3">Sensor de Ocupación</text></g>
<g id="p8-switch1" transform="translate(2908.8,712.3)"><use href="#sw"/><text class="l" x="26.6" y="127.8">Interruptor</text></g>
<g id="p8-switch2" transform="translate(2908.8,978.4)"><use href="#sw"/><text class="l" x="29.1" y="127.8">Interruptor</text></g>
<text class="nota" x="2363.6" y="1170"><tspan class="bd">NOTA:</tspan> El bloque de alimentación y la carga conmutada por el bloque DEBE ser alimentado por la misma fase.</text>
</g>
</svg>
